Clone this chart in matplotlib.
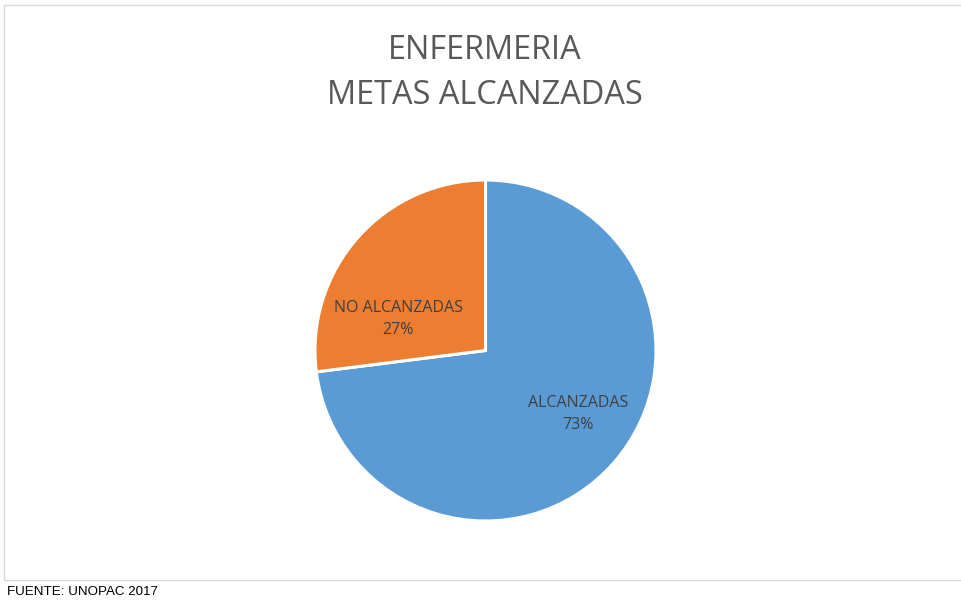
import matplotlib.pyplot as plt
from matplotlib.patches import Rectangle

# datos
categorias = ['ALCANZADAS', 'NO ALCANZADAS']
valores = [73, 27]
colores = ['#5B9BD5', '#ED7D31']

W, H = 961, 606
fig = plt.figure(figsize=(W / 100, H / 100), dpi=100)

# marco del grafico
fig.patches.append(Rectangle((4 / W, 1 - 580 / H), 970 / W, 575 / H,
                             transform=fig.transFigure, fill=False,
                             edgecolor='#D9D9D9', linewidth=1.0))

# pastel: centro (485.5, 350.5) px, radio 170.5 px
cx, cy, r = 485.5, 350.5, 170.5
lim = 1.1
ax = fig.add_axes([(cx - r * lim) / W, 1 - (cy + r * lim) / H,
                   2 * r * lim / W, 2 * r * lim / H])
wedges, _ = ax.pie(valores, colors=colores, startangle=90, counterclock=False,
                   wedgeprops=dict(edgecolor='white', linewidth=2.2))
ax.set_xlim(-lim, lim)
ax.set_ylim(-lim, lim)
ax.set_aspect('equal')

# etiquetas de datos
pos = [(0.543, -0.375), (-0.513, 0.185)]
for c, v, (x, y) in zip(categorias, valores, pos):
    ax.text(x, y, f'{c}\n{v}%', ha='center', va='center', fontsize=11.5,
            color='#404040', family='Open Sans', linespacing=1.5)

fig.text(485 / W, 1 - 73 / H, 'ENFERMERIA\nMETAS ALCANZADAS', ha='center',
         va='center', fontsize=23.4, color='#595959', family='Open Sans',
         linespacing=1.5)

fig.text(7 / W, 1 - 592 / H, 'FUENTE: UNOPAC 2017', ha='left', va='center',
         fontsize=9.6, color='black', family='Liberation Sans')

fig.savefig('out.png', dpi=100, facecolor='white')
